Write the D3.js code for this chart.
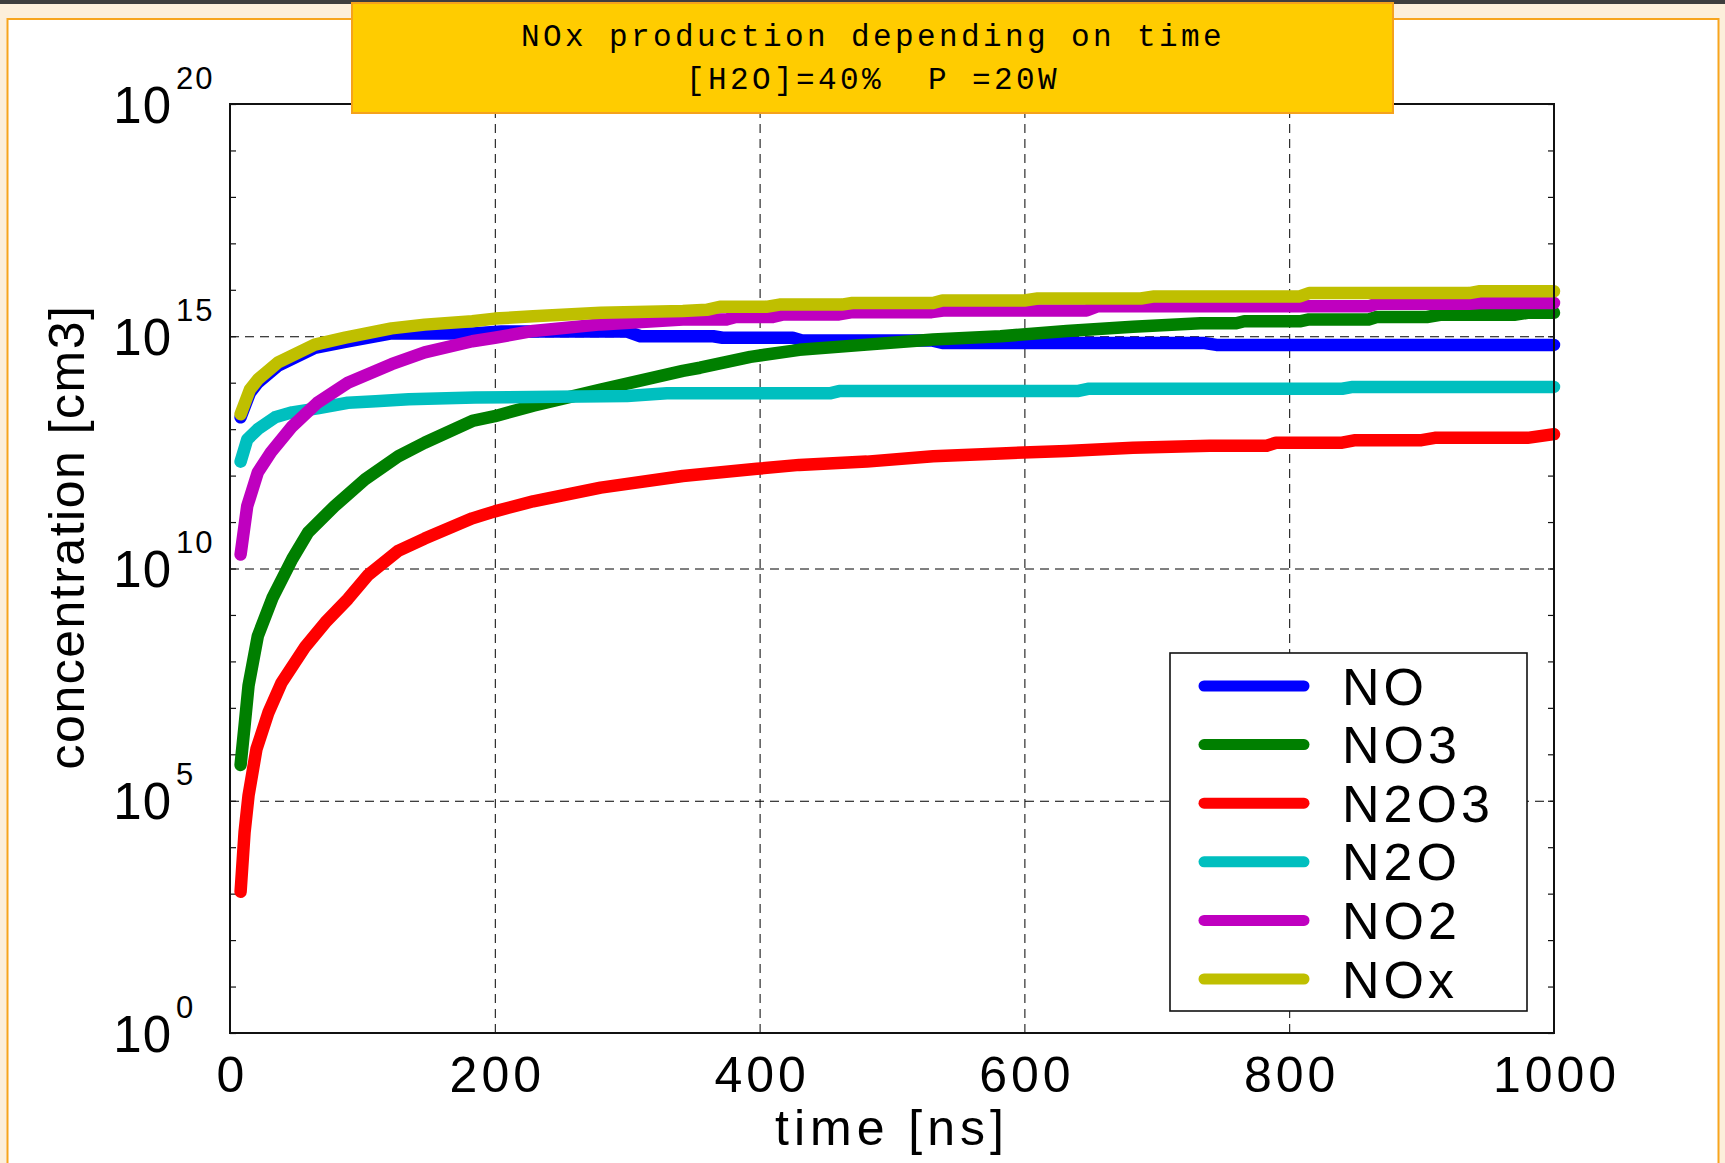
<!DOCTYPE html>
<html>
<head>
<meta charset="utf-8">
<script src="https://cdn.jsdelivr.net/npm/d3@7"></script>
<style>
  html, body { margin: 0; padding: 0; background: #fcefdb; }
  svg { display: block; }
</style>
</head>
<body>
<svg id="chart" width="1725" height="1163"></svg>
<script>
// ---- data: time in ns, concentration in cm^-3 ----
const seriesNames = ["NO", "NO3", "N2O3", "N2O", "NO2", "NOx"];
const seriesColors = ["#0000ff", "#007f00", "#ff0000", "#00bfbf", "#bf00bf", "#bfbf00"];

const timeNO = [8, 15, 21, 36, 64, 87, 122, 183, 205, 300, 310, 365, 372, 425, 432, 530, 538, 735, 745, 1000];
const concNO = [1.8e13, 6.0e13, 1.0e14, 2.3e14, 5.6e14, 7.6e14, 1.15e15, 1.15e15, 1.26e15, 1.26e15, 1.0e15, 1.0e15, 9.3e14, 9.3e14, 8.1e14, 8.1e14, 7.2e14, 7.2e14, 6.5e14, 6.5e14];

const timeNO3 = [8, 11, 14, 21, 32, 47, 59, 79, 102, 127, 147, 183, 200, 229, 280, 342, 355, 393, 430, 481, 531, 582, 632, 682, 733, 760, 766, 808, 815, 860, 866, 904, 914, 970, 980, 1000];
const concNO3 = [5.9e5, 4.1e6, 3.0e7, 3.5e8, 2.3e9, 1.6e10, 6.0e10, 2.2e11, 8.3e11, 2.6e12, 5.1e12, 1.5e13, 1.9e13, 3.2e13, 7.1e13, 1.8e14, 2.1e14, 3.6e14, 5.1e14, 6.6e14, 8.5e14, 1.0e15, 1.3e15, 1.6e15, 1.9e15, 1.9e15, 2.1e15, 2.1e15, 2.3e15, 2.3e15, 2.6e15, 2.6e15, 2.9e15, 2.9e15, 3.2e15, 3.2e15];

const timeN2O3 = [8, 11, 14, 20, 29, 39, 57, 72, 89, 104, 127, 147, 183, 200, 229, 280, 342, 398, 430, 481, 531, 582, 632, 682, 740, 783, 790, 840, 850, 900, 910, 980, 1000];
const concN2O3 = [1.1e3, 2.1e4, 1.3e5, 1.3e6, 7.9e6, 3.5e7, 2.1e8, 6.9e8, 2.2e9, 7.1e9, 2.4e10, 4.4e10, 1.2e11, 1.7e11, 2.8e11, 5.5e11, 9.8e11, 1.4e12, 1.7e12, 2.0e12, 2.6e12, 3.0e12, 3.4e12, 4.0e12, 4.4e12, 4.4e12, 5.1e12, 5.1e12, 5.8e12, 5.8e12, 6.5e12, 6.5e12, 7.8e12];

const timeN2O = [8, 13, 21, 34, 47, 66, 89, 110, 135, 185, 300, 330, 453, 460, 640, 648, 840, 848, 1000];
const concN2O = [2.0e12, 6.0e12, 1.0e13, 1.8e13, 2.3e13, 2.8e13, 3.7e13, 4.0e13, 4.4e13, 4.8e13, 5.2e13, 5.9e13, 5.9e13, 6.6e13, 6.6e13, 7.4e13, 7.4e13, 8.1e13, 8.1e13];

const timeNO2 = [8, 13, 21, 31, 47, 66, 89, 122, 147, 183, 200, 229, 280, 342, 375, 382, 410, 418, 460, 470, 530, 540, 647, 655, 860, 866, 936, 944, 1000];
const concNO2 = [2.0e10, 2.2e11, 1.17e12, 3.2e12, 1.15e13, 3.7e13, 1.0e14, 2.5e14, 4.5e14, 7.8e14, 9.3e14, 1.3e15, 1.8e15, 2.3e15, 2.3e15, 2.6e15, 2.6e15, 2.95e15, 2.95e15, 3.3e15, 3.3e15, 3.6e15, 3.6e15, 4.4e15, 4.4e15, 5.0e15, 5.0e15, 5.2e15, 5.2e15];

const timeNOx = [8, 15, 21, 36, 64, 87, 122, 147, 183, 200, 229, 280, 342, 360, 370, 405, 415, 462, 470, 531, 538, 600, 610, 688, 698, 808, 815, 936, 944, 1000];
const concNOx = [2.1e13, 7.1e13, 1.17e14, 2.7e14, 6.6e14, 9.3e14, 1.48e15, 1.78e15, 2.1e15, 2.4e15, 2.7e15, 3.2e15, 3.5e15, 3.7e15, 4.3e15, 4.3e15, 4.8e15, 4.8e15, 5.2e15, 5.2e15, 5.9e15, 5.9e15, 6.5e15, 6.5e15, 7.2e15, 7.2e15, 8.5e15, 8.5e15, 9.3e15, 9.3e15];

const seriesTimes = [timeNO, timeNO3, timeN2O3, timeN2O, timeNO2, timeNOx];
const seriesConcs = [concNO, concNO3, concN2O3, concN2O, concNO2, concNOx];

const xTicks = [0, 200, 400, 600, 800, 1000];
const yMajorExp = [0, 5, 10, 15, 20];
const yDecades = d3.range(0, 21).map(e => Math.pow(10, e));

const titleLines = ["NOx production depending on time", "[H2O]=40%  P =20W"];
const xLabel = "time [ns]";
const yLabel = "concentration [cm3]";

// ---- layout ----
const W = 1725, H = 1163;
const plot = { left: 230, right: 1554, top: 104, bottom: 1033 };

const svg = d3.select("#chart");
const sans = "'Liberation Sans', Arial, Helvetica, sans-serif";

// page background and framed panel
svg.append("rect").attr("width", W).attr("height", H).attr("fill", "#fcefdb");
svg.append("rect").attr("x", 0).attr("y", 0).attr("width", W).attr("height", 4).attr("fill", "#3e3e3e");
svg.append("rect").attr("x", 7.5).attr("y", 19).attr("width", 1711).attr("height", 1200)
  .attr("fill", "#ffffff").attr("stroke", "#f7a51e").attr("stroke-width", 2);

const x = d3.scaleLinear().domain([0, 1000]).range([plot.left, plot.right]);
const y = d3.scaleLog().domain([1, 1e20]).range([plot.bottom, plot.top]);
const pw = plot.right - plot.left, ph = plot.bottom - plot.top;

// dashed grid
const gridX = svg.append("g").attr("transform", `translate(0,${plot.bottom})`)
  .call(d3.axisBottom(x).tickValues([200, 400, 600, 800]).tickSize(-ph).tickFormat(""));
const gridY = svg.append("g").attr("transform", `translate(${plot.left},0)`)
  .call(d3.axisLeft(y).tickValues([1e5, 1e10, 1e15]).tickSize(-pw).tickFormat(""));
[gridX, gridY].forEach(g => {
  g.select(".domain").remove();
  g.selectAll("line").attr("stroke", "#000").attr("stroke-width", 1).attr("stroke-dasharray", "9,6");
});

// decade ticks on both vertical sides (pointing inward)
const tL = svg.append("g").attr("transform", `translate(${plot.left},0)`)
  .call(d3.axisLeft(y).tickValues(yDecades).tickSize(-6).tickFormat(""));
const tR = svg.append("g").attr("transform", `translate(${plot.right},0)`)
  .call(d3.axisRight(y).tickValues(yDecades).tickSize(-6).tickFormat(""));
[tL, tR].forEach(g => {
  g.select(".domain").remove();
  g.selectAll("line").attr("stroke", "#111").attr("stroke-width", 1.2);
});

// data lines
const line = d3.line().x(d => x(d[0])).y(d => y(d[1]));
seriesNames.forEach((name, i) => {
  const pts = seriesTimes[i].map((t, k) => [t, seriesConcs[i][k]]);
  svg.append("path").datum(pts)
    .attr("d", line)
    .attr("fill", "none")
    .attr("stroke", seriesColors[i])
    .attr("stroke-width", 12.5)
    .attr("stroke-linecap", "round")
    .attr("stroke-linejoin", "round");
});

// plot frame
svg.append("rect").attr("x", plot.left).attr("y", plot.top).attr("width", pw).attr("height", ph)
  .attr("fill", "none").attr("stroke", "#111").attr("stroke-width", 2);

// x tick labels
const xAxis = svg.append("g").attr("transform", `translate(0,${plot.bottom})`)
  .call(d3.axisBottom(x).tickValues(xTicks).tickSize(0).tickPadding(0).tickFormat(d3.format("d")));
xAxis.select(".domain").remove();
xAxis.selectAll("text")
  .attr("y", 59).attr("dy", null)
  .attr("font-family", sans).attr("font-size", 50).attr("fill", "#000")
  .attr("letter-spacing", 4).attr("dx", 2);

// y tick labels as 10 with superscript exponent
const yAxis = svg.append("g").attr("transform", `translate(${plot.left},0)`)
  .call(d3.axisLeft(y).tickValues(yMajorExp.map(e => Math.pow(10, e))).tickSize(0).tickFormat(""));
yAxis.select(".domain").remove();
yAxis.selectAll(".tick").each(function(d) {
  const g = d3.select(this);
  const e = Math.round(Math.log10(d));
  g.append("text").text("10")
    .attr("x", -58).attr("y", 18).attr("text-anchor", "end")
    .attr("font-family", sans).attr("font-size", 51).attr("letter-spacing", 1).attr("fill", "#000");
  g.append("text").text(String(e))
    .attr("x", -54).attr("y", -16).attr("text-anchor", "start")
    .attr("font-family", sans).attr("font-size", 31).attr("letter-spacing", 2).attr("fill", "#000");
});

// axis titles
svg.append("text").text(xLabel)
  .attr("x", (plot.left + plot.right) / 2).attr("y", 1145).attr("text-anchor", "middle")
  .attr("font-family", sans).attr("font-size", 50).attr("letter-spacing", 5).attr("fill", "#000");
svg.append("text").text(yLabel)
  .attr("transform", `translate(84,537) rotate(-90)`).attr("text-anchor", "middle")
  .attr("font-family", sans).attr("font-size", 50).attr("letter-spacing", 1.5).attr("fill", "#000");

// legend
const lg = { x: 1170, y: 653, w: 357, h: 358, row0: 686, dy: 58.6 };
svg.append("rect").attr("x", lg.x).attr("y", lg.y).attr("width", lg.w).attr("height", lg.h)
  .attr("fill", "#fff").attr("stroke", "#111").attr("stroke-width", 1.6);
seriesNames.forEach((name, i) => {
  const ry = lg.row0 + i * lg.dy;
  svg.append("line").attr("x1", 1204).attr("x2", 1304).attr("y1", ry).attr("y2", ry)
    .attr("stroke", seriesColors[i]).attr("stroke-width", 11).attr("stroke-linecap", "round");
  svg.append("text").text(name).attr("x", 1342).attr("y", ry + 18.5)
    .attr("font-family", sans).attr("font-size", 52).attr("letter-spacing", 4).attr("fill", "#000");
});

// title banner
svg.append("rect").attr("x", 352).attr("y", 3).attr("width", 1041).attr("height", 110)
  .attr("fill", "#ffcc00").attr("stroke", "#f5a21c").attr("stroke-width", 2);
titleLines.forEach((t, i) => {
  svg.append("text").text(t)
    .attr("x", 873).attr("y", i === 0 ? 46 : 89).attr("text-anchor", "middle")
    .attr("font-family", "'Courier New', 'Liberation Mono', 'DejaVu Sans Mono', monospace")
    .attr("font-size", 31).attr("letter-spacing", 3.4).attr("fill", "#000")
    .attr("xml:space", "preserve").style("white-space", "pre");
});
</script>
</body>
</html>
